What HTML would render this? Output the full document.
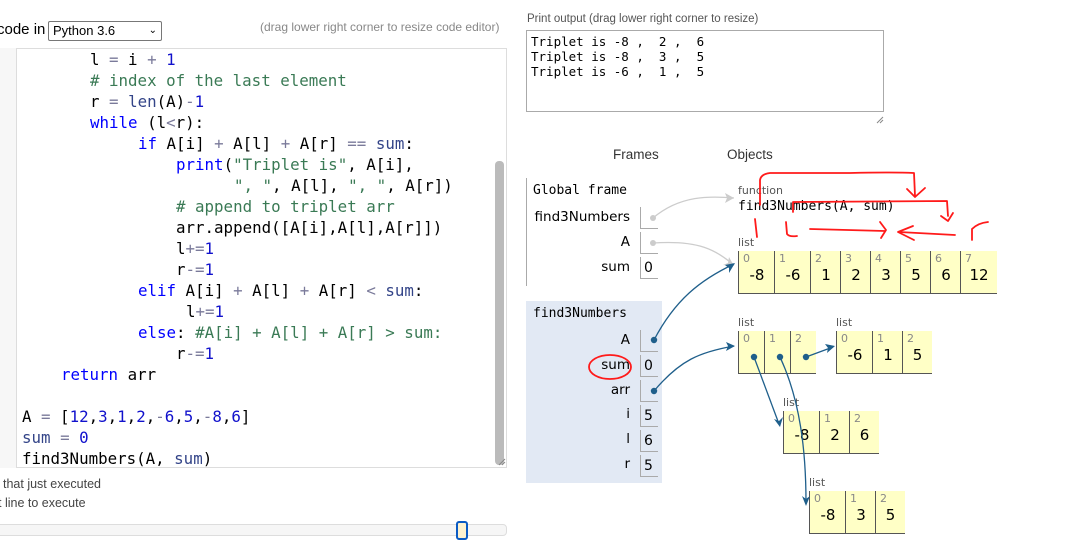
<!DOCTYPE html>
<html><head><meta charset="utf-8"><style>
body{margin:0;width:1084px;height:551px;background:#fff;position:relative;overflow:hidden;font-family:"Liberation Sans","DejaVu Sans",sans-serif}
.a{position:absolute;white-space:pre}
.c{position:absolute;white-space:pre;font-family:"DejaVu Sans Mono","Liberation Mono",monospace;font-size:15.8px;color:#000;line-height:21px}
.k{color:#0000ff}.n{color:#1111cc}.g{color:#3a7a55}.v{color:#334488}.o{color:#7a7a9a}
.m{font-family:"DejaVu Sans Mono","Liberation Mono",monospace}
.lab{position:absolute;font-size:13.5px;color:#000;text-align:right;width:110px;font-family:"DejaVu Sans",sans-serif}
.vb{position:absolute;width:14px;height:21px;border-left:1px solid #aaa;border-bottom:1px solid #aaa;font-size:14px;font-family:"DejaVu Sans",sans-serif;padding-left:3px;line-height:22px}
.cell{position:absolute;background:#ffffc6;border-left:1px solid #555;border-bottom:1px solid #555;box-sizing:border-box}
.cell i{position:absolute;left:4px;top:1px;font-style:normal;font-size:11px;color:#888;font-family:"DejaVu Sans",sans-serif}
.cell b{position:absolute;left:0;right:0;top:15px;text-align:center;font-weight:normal;font-size:15px;font-family:"DejaVu Sans",sans-serif}
.ll{position:absolute;font-size:11px;color:#555;font-family:"DejaVu Sans",sans-serif}
</style></head><body>
<div class="a" style="left:-3px;top:21px;font-size:15px">code in</div>
<div class="a" style="left:48px;top:21px;border:1px solid #777;border-radius:2px;font-size:13px;line-height:18px;padding-left:4px;box-sizing:border-box;width:114px;height:20px">Python 3.6<span style="position:absolute;right:4px;top:0;font-size:10px">&#8964;</span></div>
<div class="a" style="left:260px;top:20px;font-size:12px;color:#888">(drag lower right corner to resize code editor)</div>
<div class="a" style="left:0;top:48px;width:16px;height:420px;background:#f7f7f7;border-right:1px solid #ddd"></div>
<div class="a" style="left:17px;top:48px;width:490px;height:420px;border:1px solid #ddd;border-left:none;box-sizing:border-box"></div>
<div class="a" style="left:495px;top:161px;width:9px;height:304px;background:#bbb;border-radius:4px"></div>
<div class="c" style="left:90px;top:49px">l <span class="o">=</span> i <span class="o">+</span> <span class="n">1</span></div>
<div class="c g" style="left:90px;top:70px"># index of the last element</div>
<div class="c" style="left:90px;top:91px">r <span class="o">=</span> <span class="v">len</span>(A)<span class="o">-</span><span class="n">1</span></div>
<div class="c" style="left:90px;top:112px"><span class="k">while</span> (l<span class="o">&lt;</span>r):</div>
<div class="c" style="left:138px;top:133px"><span class="k">if</span> A[i] <span class="o">+</span> A[l] <span class="o">+</span> A[r] <span class="o">==</span> <span class="v">sum</span>:</div>
<div class="c" style="left:176px;top:154px"><span class="k">print</span>(<span class="g">"Triplet is"</span>, A[i],</div>
<div class="c" style="left:234px;top:175px"><span class="g">", "</span>, A[l], <span class="g">", "</span>, A[r])</div>
<div class="c g" style="left:176px;top:196px"># append to triplet arr</div>
<div class="c" style="left:176px;top:217px">arr.append([A[i],A[l],A[r]])</div>
<div class="c" style="left:176px;top:238px">l<span class="o">+=</span><span class="n">1</span></div>
<div class="c" style="left:176px;top:259px">r<span class="o">-=</span><span class="n">1</span></div>
<div class="c" style="left:138px;top:280px"><span class="k">elif</span> A[i] <span class="o">+</span> A[l] <span class="o">+</span> A[r] <span class="o">&lt;</span> <span class="v">sum</span>:</div>
<div class="c" style="left:186px;top:301px">l<span class="o">+=</span><span class="n">1</span></div>
<div class="c" style="left:138px;top:322px"><span class="k">else</span>: <span class="g">#A[i] + A[l] + A[r] &gt; sum:</span></div>
<div class="c" style="left:176px;top:343px">r<span class="o">-=</span><span class="n">1</span></div>
<div class="c" style="left:61px;top:364px"><span class="k">return</span> arr</div>
<div class="c" style="left:22px;top:406px">A <span class="o">=</span> [<span class="n">12</span>,<span class="n">3</span>,<span class="n">1</span>,<span class="n">2</span>,<span class="o">-</span><span class="n">6</span>,<span class="n">5</span>,<span class="o">-</span><span class="n">8</span>,<span class="n">6</span>]</div>
<div class="c" style="left:22px;top:427px"><span class="v">sum</span> <span class="o">=</span> <span class="n">0</span></div>
<div class="c" style="left:22px;top:448px">find3Numbers(A, <span class="v">sum</span>)</div>
<div class="a" style="left:3px;top:477px;font-size:12.5px;color:#444">that just executed</div>
<div class="a" style="left:-2px;top:496px;font-size:12.5px;color:#444">t line to execute</div>
<div class="a" style="left:-5px;top:524px;width:510px;height:10px;border:1px solid #ddd;border-radius:4px;background:#f6f6f6"></div>
<div class="a" style="left:456px;top:521px;width:8px;height:15px;border:2px solid #0b5bc4;border-radius:3px;background:#fdf2d0"></div>

<div class="a" style="left:527px;top:13px;font-size:11.5px;color:#555">Print output (drag lower right corner to resize)</div>
<div class="a m" style="left:526px;top:30px;width:358px;height:82px;border:1px solid #aaa;box-sizing:border-box;font-size:12.5px;line-height:15px;padding:3px 4px">Triplet is -8 ,  2 ,  6
Triplet is -8 ,  3 ,  5
Triplet is -6 ,  1 ,  5</div>
<div class="a" style="left:613px;top:147px;font-size:13.5px;color:#333">Frames</div>
<div class="a" style="left:727px;top:147px;font-size:13.5px;color:#333">Objects</div>

<div class="a" style="left:526px;top:178px;width:1px;height:108px;background:#aaa"></div>
<div class="a m" style="left:533px;top:183px;font-size:13px">Global frame</div>
<div class="lab" style="left:520px;top:209px">find3Numbers</div><div class="vb" style="left:640px;top:207px"></div>
<div class="lab" style="left:520px;top:234px">A</div><div class="vb" style="left:640px;top:232px"></div>
<div class="lab" style="left:520px;top:259px">sum</div><div class="vb" style="left:640px;top:257px">0</div>

<div class="a" style="left:526px;top:301px;width:136px;height:182px;background:#e2e9f4"></div>
<div class="a m" style="left:533px;top:306px;font-size:13px">find3Numbers</div>
<div class="lab" style="left:520px;top:332px">A</div><div class="vb" style="left:640px;top:330px"></div>
<div class="lab" style="left:520px;top:357px">sum</div><div class="vb" style="left:640px;top:355px">0</div>
<div class="lab" style="left:520px;top:382px">arr</div><div class="vb" style="left:640px;top:380px"></div>
<div class="lab" style="left:520px;top:406px">i</div><div class="vb" style="left:640px;top:405px">5</div>
<div class="lab" style="left:520px;top:431px">l</div><div class="vb" style="left:640px;top:430px">6</div>
<div class="lab" style="left:520px;top:456px">r</div><div class="vb" style="left:640px;top:455px">5</div>

<div class="ll" style="left:738px;top:184px">function</div>
<div class="a m" style="left:738px;top:199px;font-size:13px">find3Numbers(A, sum)</div>
<div class="ll" style="left:738px;top:236px">list</div>
<div class="cell" style="left:738px;top:251px;width:37px;height:43px"><i>0</i><b>-8</b></div>
<div class="cell" style="left:774px;top:251px;width:37px;height:43px"><i>1</i><b>-6</b></div>
<div class="cell" style="left:810px;top:251px;width:31px;height:43px"><i>2</i><b>1</b></div>
<div class="cell" style="left:840px;top:251px;width:31px;height:43px"><i>3</i><b>2</b></div>
<div class="cell" style="left:870px;top:251px;width:31px;height:43px"><i>4</i><b>3</b></div>
<div class="cell" style="left:900px;top:251px;width:31px;height:43px"><i>5</i><b>5</b></div>
<div class="cell" style="left:930px;top:251px;width:31px;height:43px"><i>6</i><b>6</b></div>
<div class="cell" style="left:960px;top:251px;width:37px;height:43px"><i>7</i><b>12</b></div>

<div class="ll" style="left:738px;top:316px">list</div>
<div class="cell" style="left:738px;top:331px;width:27px;height:43px"><i>0</i></div>
<div class="cell" style="left:764px;top:331px;width:27px;height:43px"><i>1</i></div>
<div class="cell" style="left:790px;top:331px;width:26px;height:43px"><i>2</i></div>
<div class="ll" style="left:836px;top:316px">list</div>
<div class="cell" style="left:836px;top:331px;width:37px;height:43px"><i>0</i><b>-6</b></div>
<div class="cell" style="left:872px;top:331px;width:31px;height:43px"><i>1</i><b>1</b></div>
<div class="cell" style="left:902px;top:331px;width:30px;height:43px"><i>2</i><b>5</b></div>
<div class="ll" style="left:783px;top:396px">list</div>
<div class="cell" style="left:783px;top:411px;width:37px;height:43px"><i>0</i><b>-8</b></div>
<div class="cell" style="left:819px;top:411px;width:31px;height:43px"><i>1</i><b>2</b></div>
<div class="cell" style="left:849px;top:411px;width:30px;height:43px"><i>2</i><b>6</b></div>
<div class="ll" style="left:809px;top:476px">list</div>
<div class="cell" style="left:809px;top:491px;width:37px;height:43px"><i>0</i><b>-8</b></div>
<div class="cell" style="left:845px;top:491px;width:31px;height:43px"><i>1</i><b>3</b></div>
<div class="cell" style="left:875px;top:491px;width:30px;height:43px"><i>2</i><b>5</b></div>

<svg class="a" style="left:0;top:0" width="1084" height="551" viewBox="0 0 1084 551">
<g stroke="#ccc" stroke-width="1.3" fill="none">
<path d="M653,218 C680,195 710,196 734,198"/>
<path d="M653,243 C700,240 715,250 734,265"/>
</g>
<g fill="#ccc">
<path d="M734,198 l-9,-5 l2,5 l-2,5z"/><path d="M734,266 l-5,-9 l-1,6 l-5,2z"/>
<circle cx="653" cy="218" r="3"/><circle cx="653" cy="243" r="3"/>
</g>
<g stroke="#1f5f8b" stroke-width="1.3" fill="none">
<path d="M654,340 C675,300 700,280 734,264"/>
<path d="M654,391 C680,360 700,352 734,346"/>
<path d="M754,357 L779,424"/>
<path d="M780,357 C800,400 806,450 806,503"/>
<path d="M806,357 L833,347"/>
</g>
<g fill="#1f5f8b">
<path d="M735,263 l-10,2 l4,3 l0,5z"/>
<path d="M735,346 l-9,-4 l2,4 l-2,5z"/>
<path d="M780,427 l-6,-8 l5,2 l4,-4z"/>
<path d="M806,506 l-4,-10 l4,3 l4,-3z"/>
<path d="M835,346 l-10,-2 l3,4 l-1,5z"/>
<circle cx="654" cy="340" r="3.2"/><circle cx="654" cy="391" r="3.2"/>
<circle cx="754" cy="357" r="3.2"/><circle cx="780" cy="357" r="3.2"/><circle cx="806" cy="357" r="3.2"/>
</g>
<g stroke="#ff1a1a" stroke-width="1.8" stroke-linecap="round" stroke-linejoin="round" fill="none">
<path d="M760,205 L760,180 Q761,174 770,173 L850,173 Q890,172 914,173 L915,196"/>
<path d="M907,189 L915,197 L925,188"/>
<path d="M793,212 L793,202 L947,201 L948,216"/><path d="M941,216 L948,221 L953,213"/>
<path d="M755,219 L757,237"/><path d="M786,222 L787,234 Q789,237 797,236"/>
<path d="M810,229 L885,231"/><path d="M880,222 L886,230 L881,238"/>
<path d="M955,235 L899,232"/><path d="M913,226 L898,232 L914,240"/>
<path d="M972,240 L972,229 Q978,223 988,222"/>
<ellipse cx="610" cy="367" rx="21" ry="12"/>
</g>
<g stroke="#888" stroke-width="1"><path d="M877,123 l6,-6 M880,123 l3,-3 M499,465 l6,-6 M502,465 l3,-3"/></g>
</svg>
</body></html>
